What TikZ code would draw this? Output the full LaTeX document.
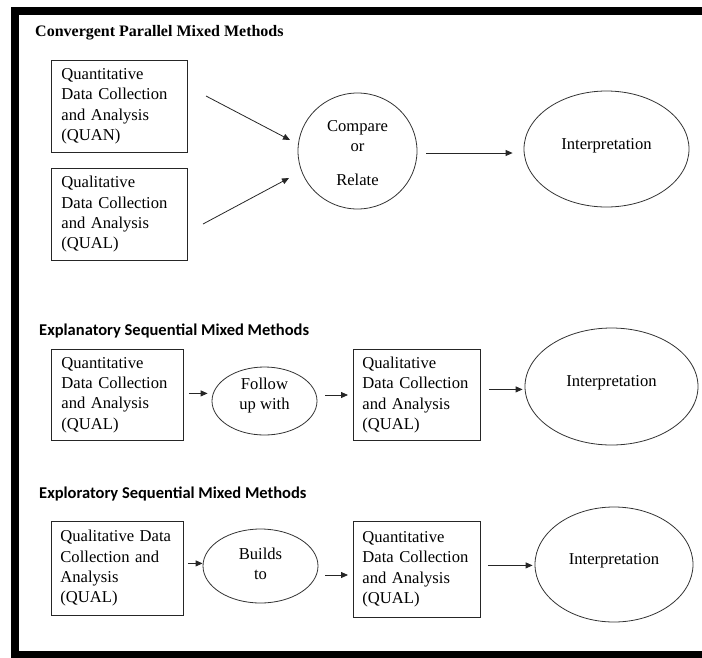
\documentclass[tikz,border=0pt]{standalone}
\usepackage{fontspec}
\setmainfont{Liberation Serif}
\newfontfamily\tnr{Liberation Serif}
\newfontfamily\headsans{Carlito}
\usetikzlibrary{shapes.geometric,arrows.meta}
\tikzset{
  txt/.style={font=\tnr\fontsize{16.6}{20.3}\selectfont},
  databox/.style={txt, draw=black!85, line width=0.8pt, rectangle, anchor=north west,
    inner xsep=10pt, inner ysep=0pt, align=left},
  ell/.style={draw=black!80, line width=0.8pt, ellipse, inner sep=0pt},
  ltxt/.style={txt, align=center, inner sep=0pt},
  arr/.style={draw=black!85, line width=0.8pt, -{Triangle[length=7pt,width=6pt]}},
  serifhead/.style={font=\tnr\fontsize{16}{19}\selectfont\bfseries, anchor=base west, inner sep=0pt},
  sanshead/.style={font=\headsans\fontsize{16.5}{19}\selectfont\bfseries, anchor=base west, inner sep=0pt},
}
\begin{document}
\begin{tikzpicture}[x=1pt,y=-1pt]
\useasboundingbox (0,0) rectangle (702,657);
\begin{scope}
\clip (0,0) rectangle (702,657);
% frame
\fill[black] (11,7) rectangle (702,15);
\fill[black] (11,7) rectangle (18.5,657);
\fill[black] (11,651) rectangle (702,660);
\end{scope}

% ---------- Convergent ----------
\node[serifhead] (t1) at (35,36) {Convergent Parallel Mixed Methods};
\node[databox, minimum width=136pt, minimum height=92pt, text width=116pt] (q1) at (51,60)
  {Quantitative\\Data~Collection\\and~Analysis\\(QUAN)};
\node[databox, minimum width=136pt, minimum height=92pt, text width=116pt] (q2) at (51,168)
  {Qualitative\\Data~Collection\\and~Analysis\\(QUAL)};
\node[ell, minimum width=119pt, minimum height=116pt] (cmp) at (357.5,151) {};
\node[ltxt] (cmpt) at (357.5,153) {Compare\\or\\[14pt]Relate};
\node[ell, minimum width=165pt, minimum height=116pt, txt, text height=0pt, text depth=0pt] (i1) at (606.5,149) {Interpretation};

\coordinate (a1s) at (206,96);
\coordinate (a1e) at (290,140);
\coordinate (a2s) at (203,224);
\coordinate (a2e) at (289,178);
\draw[arr] (a1s) -- (a1e);
\draw[arr] (a2s) -- (a2e);
\draw[arr, shorten <=9pt, shorten >=11pt] ([yshift=-2pt]cmp.east) -- ([yshift=-2pt]cmp.east -| i1.west);

% ---------- Explanatory ----------
\node[sanshead] (t2) at (39,335) {Explanatory Sequential Mixed Methods};
\node[databox, minimum width=132pt, minimum height=91pt, text width=112pt] (q3) at (51,349)
  {Quantitative\\Data~Collection\\and~Analysis\\(QUAL)};
\node[ell, minimum width=105pt, minimum height=68pt] (fol) at (264.5,401) {};
\node[ltxt] (folt) at (264.5,395.5) {Follow\\up~with};
\node[databox, minimum width=127pt, minimum height=91pt, text width=109pt, inner xsep=9pt] (q4) at (353,349)
  {Qualitative\\Data~Collection\\and~Analysis\\(QUAL)};
\node[ell, minimum width=173pt, minimum height=117pt, txt, text height=0pt, text depth=0pt] (i2) at (611.5,386.5) {Interpretation};

\draw[arr, shorten <=5pt, shorten >=4pt] ([yshift=1.5pt]q3.east) -- ([yshift=1.5pt]q3.east -| fol.west);
\draw[arr, shorten <=8pt, shorten >=5pt] ([yshift=6pt]fol.east) -- ([yshift=6pt]fol.east -| q4.west);
\draw[arr, shorten <=8pt, shorten >=2pt] ([yshift=5.5pt]q4.east) -- ([yshift=5.5pt]q4.east -| i2.west);

% ---------- Exploratory ----------
\node[sanshead] (t3) at (39,498) {Exploratory Sequential Mixed Methods};
\node[databox, minimum width=132pt, minimum height=94pt, text width=114pt, inner xsep=9pt] (q5) at (51,521)
  {Qualitative~Data\\Collection~and\\Analysis\\(QUAL)};
\node[ell, minimum width=115pt, minimum height=74pt] (bld) at (260.5,566) {};
\node[ltxt] (bldt) at (260.5,564) {Builds\\to};
\node[databox, minimum width=127pt, minimum height=96pt, text width=109pt, inner xsep=9pt] (q6) at (353,521)
  {Quantitative\\Data~Collection\\and~Analysis\\(QUAL)};
\node[ell, minimum width=158pt, minimum height=115pt, txt, text height=0pt, text depth=0pt] (i3) at (614,564.5) {Interpretation};

\draw[arr, shorten <=4pt, shorten >=0pt] ([yshift=5pt]q5.east) -- ([yshift=5pt]q5.east -| bld.west);
\draw[arr, shorten <=7pt, shorten >=5pt] ([yshift=-9pt]bld.east) -- ([yshift=-9pt]bld.east -| q6.west);
\draw[arr, shorten <=7pt, shorten >=2pt] ([yshift=4pt]q6.east) -- ([yshift=4pt]q6.east -| i3.west);
\end{tikzpicture}
\end{document}
